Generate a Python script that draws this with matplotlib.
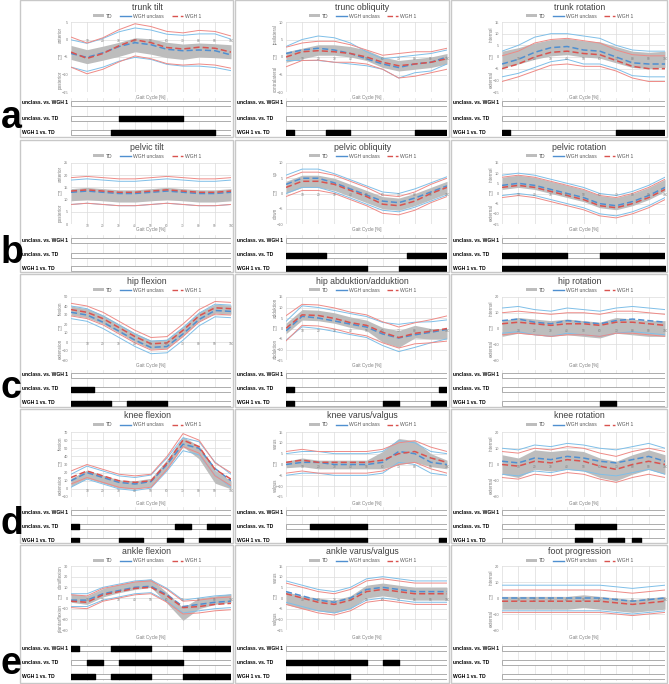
import matplotlib.pyplot as plt
from matplotlib.lines import Line2D
from matplotlib.patches import Patch, Rectangle
import numpy as np

plt.rcParams['font.family'] = ['Liberation Sans Narrow', 'Liberation Sans', 'DejaVu Sans']

GAIT = [0, 10, 20, 30, 40, 50, 60, 70, 80, 90, 100]
COMPARISONS = ["unclass. vs. WGH 1", "unclass. vs. TD", "WGH 1 vs. TD"]

# --- row a ---
TRUNK_TILT_TD = [-3.7, -4.9, -3.9, -2.8, -1.5, -2.0, -3.0, -3.5, -3.0, -3.2, -3.5]
TRUNK_TILT_TD_SD = [2.0, 2.0, 2.0, 2.0, 2.0, 2.2, 2.2, 2.2, 2.0, 2.0, 2.0]
TRUNK_TILT_UN = [-4.0, -5.1, -3.8, -2.0, -0.9, -1.5, -2.8, -3.2, -3.0, -3.2, -4.4]
TRUNK_TILT_UN_SD = [3.9, 4.0, 4.1, 4.2, 4.2, 4.2, 4.3, 4.4, 4.6, 4.8, 4.5]
TRUNK_TILT_W1 = [-3.6, -5.4, -4.0, -1.8, -0.1, -0.9, -2.3, -2.7, -2.2, -2.5, -3.6]
TRUNK_TILT_W1_SD = [4.3, 4.4, 4.5, 4.6, 4.6, 4.6, 4.6, 4.6, 4.8, 4.8, 4.6]
TRUNK_TILT_SIG = [[], [(30, 40)], [(25, 65)]]

TRUNK_OBL_TD = [0, 1, 2, 2, 1.5, 0.5, -1.5, -2.5, -2, -1.5, -0.5]
TRUNK_OBL_TD_SD = [1.5, 1.5, 1.5, 1.5, 1.5, 1.5, 1.5, 1.5, 1.5, 1.5, 1.5]
TRUNK_OBL_UN = [1, 2, 2.5, 2, 1, -0.5, -2, -3, -2, -1.5, 0]
TRUNK_OBL_UN_SD = [2, 3, 3.5, 3.5, 3, 2, 1.5, 3, 2.5, 2.5, 2]
TRUNK_OBL_W1 = [0, 1.5, 1.8, 1.5, 1, 0, -1.5, -2.5, -2, -1.5, -0.5]
TRUNK_OBL_W1_SD = [2.8, 2.5, 2.7, 3, 2.5, 2, 2, 3.5, 3.5, 3, 3]
TRUNK_OBL_SIG = [[], [], [(0, 5), (25, 15), (80, 20)]]

TRUNK_ROT_TD = [-1, 0.5, 2.5, 4, 4.5, 3.5, 3, 1, -1, -1.5, -1]
TRUNK_ROT_TD_SD = [3.5, 3.5, 3.5, 3.5, 3.5, 3.5, 3.5, 3.5, 3.5, 3.5, 3.5]
TRUNK_ROT_UN = [-3, -1, 2, 4, 4.5, 3, 2.5, 0, -2.5, -3, -3]
TRUNK_ROT_UN_SD = [5.5, 6, 6.5, 6, 5.5, 6, 5.5, 5, 5.5, 5.5, 5.5]
TRUNK_ROT_W1 = [-5, -3, 0, 2, 2.5, 1.5, 1, -1.5, -4, -5, -5]
TRUNK_ROT_W1_SD = [5.5, 5.5, 6, 5.5, 5.5, 5.5, 5, 4.5, 5, 5.5, 5.5]
TRUNK_ROT_SIG = [[], [], [(0, 5), (70, 30)]]

# --- row b ---
PELV_TILT_TD = [12, 12.5, 12, 11.5, 11.5, 12, 12.5, 12, 11.5, 11.5, 12]
PELV_TILT_TD_SD = [2.5, 2.5, 2.5, 2.5, 2.5, 2.5, 2.5, 2.5, 2.5, 2.5, 2.5]
PELV_TILT_UN = [13, 13.5, 13, 12.5, 12.5, 13, 13.5, 13, 12.5, 12.5, 13]
PELV_TILT_UN_SD = [5, 5, 5, 5, 5, 5, 5, 5, 5, 5, 5]
PELV_TILT_W1 = [13.5, 14, 13.5, 13, 13, 13.5, 14, 13.5, 13, 13, 13.5]
PELV_TILT_W1_SD = [5.5, 5.5, 5.5, 5.5, 5.5, 5.5, 5.5, 5.5, 5.5, 5.5, 5.5]
PELV_TILT_SIG = [[], [], []]

PELV_OBL_TD = [2, 4, 4, 3, 1, -1, -3, -3.5, -2, 0, 2]
PELV_OBL_TD_SD = [2, 2, 2, 2, 2, 2, 2, 2, 2, 2, 2]
PELV_OBL_UN = [3, 5, 5, 3.5, 1.5, -0.5, -2.5, -3, -1.5, 0.5, 2.5]
PELV_OBL_UN_SD = [3, 3, 3, 3, 3, 3, 3, 3, 3, 3, 3]
PELV_OBL_W1 = [2, 4, 4, 3, 1, -1, -3.5, -4, -2.5, 0, 2]
PELV_OBL_W1_SD = [3, 3, 3, 3, 3, 3, 3, 3, 3, 3, 3]
PELV_OBL_SIG = [[], [(0, 25), (75, 25)], [(0, 50), (70, 30)]]

PELV_ROT_TD = [5, 6, 5, 3, 1, -1, -4, -5, -3, 0, 4]
PELV_ROT_TD_SD = [3, 3, 3, 3, 3, 3, 3, 3, 3, 3, 3]
PELV_ROT_UN = [4, 5, 4, 2, 0, -2, -5, -6, -4, -1, 3]
PELV_ROT_UN_SD = [5, 5, 5, 5, 5, 5, 5, 5, 5, 5, 5]
PELV_ROT_W1 = [3, 4, 3, 1, -1, -3, -6, -7, -5, -2, 2]
PELV_ROT_W1_SD = [5, 5, 5, 5, 5, 5, 5, 5, 5, 5, 5]
PELV_ROT_SIG = [[], [(0, 40), (60, 40)], [(0, 100)]]

# --- row c ---
HIP_FLEX_TD = [35, 32, 25, 15, 5, -3, -2, 12, 28, 37, 36]
HIP_FLEX_TD_SD = [5, 5, 5, 5, 5, 5, 5, 5, 5, 5, 5]
HIP_FLEX_UN = [33, 30, 22, 12, 2, -6, -5, 9, 25, 35, 34]
HIP_FLEX_UN_SD = [7, 7, 7, 7, 7, 7, 7, 7, 7, 7, 7]
HIP_FLEX_W1 = [36, 33, 26, 16, 6, -2, -1, 13, 29, 38, 37]
HIP_FLEX_W1_SD = [7, 7, 7, 7, 7, 7, 7, 7, 7, 7, 7]
HIP_FLEX_SIG = [[], [(0, 14.5)], [(0, 25), (35, 25)]]

HIP_ABD_TD = [0, 6.5, 6.2, 5, 3, 1.5, -3, -5, -1.5, -2.5, -2.5]
HIP_ABD_TD_SD = [2.5, 2.5, 2.5, 2.5, 2.5, 2.5, 3.5, 4, 3, 2.5, 2.5]
HIP_ABD_UN = [-1.1, 5.8, 5.0, 3.6, 2.1, 0.7, -2.6, -4.5, -3.0, -1.8, -0.4]
HIP_ABD_UN_SD = [4.5, 5, 5, 5, 5, 5, 5.5, 6.5, 6, 5, 4.5]
HIP_ABD_W1 = [0.1, 6.5, 6.2, 4.8, 2.8, 1.5, -1.8, -4.3, -2.3, -1.3, 0]
HIP_ABD_W1_SD = [6, 5, 5, 5, 5, 5, 5, 5, 5, 5.5, 6]
HIP_ABD_SIG = [[], [(0, 5), (95, 5)], [(0, 5), (60, 10), (90, 10)]]

HIP_ROT_TD = [0, 2, 1, 0, 1, 0, -1, 2, 1, 0, 0]
HIP_ROT_TD_SD = [5, 5, 5, 5, 5, 5, 5, 5, 5, 5, 5]
HIP_ROT_UN = [5, 6, 4, 3, 5, 4, 3, 5, 6, 5, 4]
HIP_ROT_UN_SD = [8, 8, 8, 8, 8, 8, 8, 8, 8, 8, 8]
HIP_ROT_W1 = [3, 4, 3, 2, 3, 3, 2, 4, 4, 3, 2]
HIP_ROT_W1_SD = [7, 7, 7, 7, 7, 7, 7, 7, 7, 7, 7]
HIP_ROT_SIG = [[], [], [(60, 10)]]

# --- row d ---
KNEE_FLEX_TD = [8, 18, 12, 6, 5, 8, 30, 58, 45, 15, 5]
KNEE_FLEX_TD_SD = [5, 5, 5, 5, 5, 5, 6, 6, 8, 8, 5]
KNEE_FLEX_UN = [10, 20, 14, 8, 6, 9, 30, 55, 50, 25, 10]
KNEE_FLEX_UN_SD = [8, 8, 8, 8, 8, 8, 8, 8, 8, 8, 8]
KNEE_FLEX_W1 = [14, 22, 16, 10, 8, 10, 32, 60, 52, 24, 12]
KNEE_FLEX_W1_SD = [8, 8, 8, 8, 8, 8, 8, 8, 8, 8, 8]
KNEE_FLEX_SIG = [[], [(0, 5), (65, 10), (85, 15)], [(0, 5), (30, 15), (60, 10), (80, 20)]]

KNEE_VAR_TD = [0, 1, 0, 0, 0, 0, 2, 6, 6, 2, 0]
KNEE_VAR_TD_SD = [1.5, 2, 2, 2, 2, 2, 4, 6, 5, 3, 2]
KNEE_VAR_UN = [0, 1, 1, 0, 0, 0, 1, 6, 5, 1, 0]
KNEE_VAR_UN_SD = [5, 5, 5, 5, 5, 5, 5, 5, 5, 5, 5]
KNEE_VAR_W1 = [1, 2, 1, 1, 1, 1, 2, 5, 6, 3, 1]
KNEE_VAR_W1_SD = [5, 5, 5, 5, 5, 5, 5, 5, 5, 5, 5]
KNEE_VAR_SIG = [[], [(15, 35)], [(0, 50), (95, 5)]]

KNEE_ROT_TD = [0, -2, 3, 2, 3, 2, -2, -4, 0, 3, 0]
KNEE_ROT_TD_SD = [6, 6, 6, 6, 6, 6, 6, 6, 6, 6, 6]
KNEE_ROT_UN = [2, 1, 4, 3, 5, 4, 2, 1, 3, 5, 2]
KNEE_ROT_UN_SD = [8, 8, 8, 8, 8, 8, 8, 8, 8, 8, 8]
KNEE_ROT_W1 = [0, -1, 2, 1, 3, 2, -1, -3, 0, 2, 0]
KNEE_ROT_W1_SD = [8, 8, 8, 8, 8, 8, 8, 8, 8, 8, 8]
KNEE_ROT_SIG = [[], [(45, 25)], [(45, 10), (65, 10), (80, 5)]]

# --- row e ---
ANK_FLEX_TD = [0, -2, 5, 9, 12, 14, 0, -15, -5, -2, 0]
ANK_FLEX_TD_SD = [4, 4, 4, 4, 4, 4, 5, 6, 5, 4, 4]
ANK_FLEX_UN = [-2, -2, 4, 7, 10, 11, 3, -8, -6, -4, -3]
ANK_FLEX_UN_SD = [6, 6, 6, 6, 6, 6, 6, 6, 6, 6, 6]
ANK_FLEX_W1 = [-3, -4, 3, 6, 9, 10, 2, -9, -8, -6, -5]
ANK_FLEX_W1_SD = [6, 6, 6, 6, 6, 6, 6, 6, 6, 6, 6]
ANK_FLEX_SIG = [[(0, 5), (25, 25), (70, 30)], [(10, 10), (30, 40)], [(0, 15), (25, 25), (70, 30)]]

ANK_VAR_TD = [0, -2, -3, -4, -2, 3, 4, 3, 2, 2, 2]
ANK_VAR_TD_SD = [3, 3, 3, 3, 3, 3, 3, 3, 3, 3, 3]
ANK_VAR_UN = [3, 1, -1, -2, 0, 4, 5, 4, 3, 3, 3]
ANK_VAR_UN_SD = [5, 5, 5, 5, 5, 5, 5, 5, 5, 5, 5]
ANK_VAR_W1 = [2, 0, -2, -3, -1, 3, 4, 3, 2, 2, 2]
ANK_VAR_W1_SD = [5, 5, 5, 5, 5, 5, 5, 5, 5, 5, 5]
ANK_VAR_SIG = [[], [(0, 50), (60, 10)], [(0, 40)]]

FOOT_PROG_TD = [-3, -3, -3, -3, -3, -2, -3, -4, -5, -4, -3]
FOOT_PROG_TD_SD = [4, 4, 4, 4, 4, 4, 4, 4, 4, 4, 4]
FOOT_PROG_UN = [0, 0, 0, 0, 0, 0, 0, -1, -2, -1, 0]
FOOT_PROG_UN_SD = [8, 8, 8, 8, 8, 8, 8, 8, 8, 8, 8]
FOOT_PROG_W1 = [-2, -2, -2, -2, -2, -2, -2, -3, -4, -3, -2]
FOOT_PROG_W1_SD = [7, 7, 7, 7, 7, 7, 7, 7, 7, 7, 7]
FOOT_PROG_SIG = [[], [], []]

PANELS = [
    ("trunk tilt", "anterior", "posterior", (-15, 5, 5),
     TRUNK_TILT_TD, TRUNK_TILT_TD_SD, TRUNK_TILT_UN, TRUNK_TILT_UN_SD, TRUNK_TILT_W1, TRUNK_TILT_W1_SD, TRUNK_TILT_SIG),
    ("trunc obliquity", "ipsilateral", "contralateral", (-10, 10, 5),
     TRUNK_OBL_TD, TRUNK_OBL_TD_SD, TRUNK_OBL_UN, TRUNK_OBL_UN_SD, TRUNK_OBL_W1, TRUNK_OBL_W1_SD, TRUNK_OBL_SIG),
    ("trunk rotation", "internal", "external", (-15, 15, 5),
     TRUNK_ROT_TD, TRUNK_ROT_TD_SD, TRUNK_ROT_UN, TRUNK_ROT_UN_SD, TRUNK_ROT_W1, TRUNK_ROT_W1_SD, TRUNK_ROT_SIG),
    ("pelvic tilt", "anterior", "posterior", (0, 25, 5),
     PELV_TILT_TD, PELV_TILT_TD_SD, PELV_TILT_UN, PELV_TILT_UN_SD, PELV_TILT_W1, PELV_TILT_W1_SD, PELV_TILT_SIG),
    ("pelvic obliquity", "up", "down", (-10, 10, 5),
     PELV_OBL_TD, PELV_OBL_TD_SD, PELV_OBL_UN, PELV_OBL_UN_SD, PELV_OBL_W1, PELV_OBL_W1_SD, PELV_OBL_SIG),
    ("pelvic rotation", "internal", "external", (-15, 15, 5),
     PELV_ROT_TD, PELV_ROT_TD_SD, PELV_ROT_UN, PELV_ROT_UN_SD, PELV_ROT_W1, PELV_ROT_W1_SD, PELV_ROT_SIG),
    ("hip flexion", "flexion", "extension", (-20, 50, 10),
     HIP_FLEX_TD, HIP_FLEX_TD_SD, HIP_FLEX_UN, HIP_FLEX_UN_SD, HIP_FLEX_W1, HIP_FLEX_W1_SD, HIP_FLEX_SIG),
    ("hip abduktion/adduktion", "adduktion", "abduktion", (-15, 15, 5),
     HIP_ABD_TD, HIP_ABD_TD_SD, HIP_ABD_UN, HIP_ABD_UN_SD, HIP_ABD_W1, HIP_ABD_W1_SD, HIP_ABD_SIG),
    ("hip rotation", "internal", "external", (-20, 20, 10),
     HIP_ROT_TD, HIP_ROT_TD_SD, HIP_ROT_UN, HIP_ROT_UN_SD, HIP_ROT_W1, HIP_ROT_W1_SD, HIP_ROT_SIG),
    ("knee flexion", "flexion", "extension", (-10, 70, 10),
     KNEE_FLEX_TD, KNEE_FLEX_TD_SD, KNEE_FLEX_UN, KNEE_FLEX_UN_SD, KNEE_FLEX_W1, KNEE_FLEX_W1_SD, KNEE_FLEX_SIG),
    ("knee varus/valgus", "varus", "valgus", (-15, 15, 5),
     KNEE_VAR_TD, KNEE_VAR_TD_SD, KNEE_VAR_UN, KNEE_VAR_UN_SD, KNEE_VAR_W1, KNEE_VAR_W1_SD, KNEE_VAR_SIG),
    ("knee rotation", "internal", "external", (-20, 20, 10),
     KNEE_ROT_TD, KNEE_ROT_TD_SD, KNEE_ROT_UN, KNEE_ROT_UN_SD, KNEE_ROT_W1, KNEE_ROT_W1_SD, KNEE_ROT_SIG),
    ("ankle flexion", "dorsiflexion", "plantarflexion", (-30, 30, 10),
     ANK_FLEX_TD, ANK_FLEX_TD_SD, ANK_FLEX_UN, ANK_FLEX_UN_SD, ANK_FLEX_W1, ANK_FLEX_W1_SD, ANK_FLEX_SIG),
    ("ankle varus/valgus", "varus", "valgus", (-15, 15, 5),
     ANK_VAR_TD, ANK_VAR_TD_SD, ANK_VAR_UN, ANK_VAR_UN_SD, ANK_VAR_W1, ANK_VAR_W1_SD, ANK_VAR_SIG),
    ("foot progression", "internal", "external", (-20, 20, 10),
     FOOT_PROG_TD, FOOT_PROG_TD_SD, FOOT_PROG_UN, FOOT_PROG_UN_SD, FOOT_PROG_W1, FOOT_PROG_W1_SD, FOOT_PROG_SIG),
]
ROW_LETTERS = ["a", "b", "c", "d", "e"]

# layout in pixels (top-left origin)
W, H = 669, 684
COL_X = [(20, 233), (235, 449), (451, 667)]
ROWS = [
    dict(top=0, bottom=137, plot=(22, 92), gait=97, bars=(103, 118, 132)),
    dict(top=140, bottom=272, plot=(163, 224), gait=229, bars=(240, 255, 268)),
    dict(top=274, bottom=407, plot=(297, 360), gait=366, bars=(375, 389, 403)),
    dict(top=409, bottom=543, plot=(432, 497), gait=503, bars=(512, 526, 540)),
    dict(top=545, bottom=683, plot=(566, 630), gait=638, bars=(649, 663, 677)),
]

GRAY = "#bdbdbd"
BLUE = "#4f8fd0"
RED = "#d9534f"
BLUE_L = "#7fbfe8"
RED_L = "#ee8a86"
TXT = "#7f7f7f"

fig = plt.figure(figsize=(W / 100, H / 100), dpi=100)


def px_axes(x0, y0, x1, y1):
    return fig.add_axes([x0 / W, 1 - y1 / H, (x1 - x0) / W, (y1 - y0) / H])


x = np.array(GAIT)
for i, (title, up, down, yr, td, td_sd, un, un_sd, w1, w1_sd, sig) in enumerate(PANELS):
    r, c = divmod(i, 3)
    row = ROWS[r]
    left, right = COL_X[c]
    fig.add_artist(Rectangle((left / W, 1 - row["bottom"] / H), (right - left) / W,
                             (row["bottom"] - row["top"]) / H, transform=fig.transFigure,
                             fill=False, ec="#c8c8c8", lw=1.0))
    px0, px1 = left + 51, right - 2
    pc = (px0 + px1) / 2 - 4
    fig.text(pc / W, 1 - (row["top"] + 7) / H, title, ha="center", va="center",
             size=6.3, color="#404040")

    ax = px_axes(px0, row["plot"][0], px1, row["plot"][1])
    lo, hi, step = yr
    ax.set_xlim(0, 100)
    ax.set_ylim(lo, hi)
    ax.set_xticks(GAIT)
    ax.set_yticks(np.arange(lo, hi + 0.01, step))
    ax.grid(color="#dcdcdc", lw=0.5)
    ax.set_axisbelow(True)
    for s in ax.spines.values():
        s.set_visible(False)
    ax.tick_params(length=0, labelsize=2.8, colors=TXT, pad=2)
    ax.set_xticklabels([])

    td, td_sd = np.array(td), np.array(td_sd)
    un, un_sd = np.array(un), np.array(un_sd)
    w1, w1_sd = np.array(w1), np.array(w1_sd)
    ax.fill_between(x, td - td_sd, td + td_sd, color=GRAY, lw=0, zorder=2)
    for m, s, col, lcol in [(un, un_sd, BLUE, BLUE_L), (w1, w1_sd, RED, RED_L)]:
        ax.plot(x, m + s, color=lcol, lw=0.7, zorder=3)
        ax.plot(x, m - s, color=lcol, lw=0.7, zorder=3)
    ax.plot(x, un, color=BLUE, lw=1.1, ls=(0, (4, 2)), zorder=4)
    ax.plot(x, w1, color=RED, lw=1.1, ls=(0, (4, 2)), zorder=4)

    # category labels sit on the zero line
    y0 = 0 if lo <= 0 <= hi else lo
    for g in GAIT[1:]:
        ax.text(g, y0, str(g), ha="center", va="top", size=2.3, color=TXT, zorder=5)

    pw = px1 - px0
    ax.text(-11 / pw, 0.5, "[°]", transform=ax.transAxes, ha="center", va="center",
            size=3.5, color=TXT)
    ax.text(-11 / pw, 0.82, up, transform=ax.transAxes, ha="center", va="center",
            size=3.3, color=TXT, rotation=90)
    ax.text(-11 / pw, 0.18, down, transform=ax.transAxes, ha="center", va="center",
            size=3.3, color=TXT, rotation=90)

    handles = [Patch(facecolor=GRAY, edgecolor="none"),
               Line2D([], [], color=BLUE, lw=1.0),
               Line2D([], [], color=RED, lw=1.0, ls=(0, (4, 2)))]
    fig.legend(handles, ["TD", "WGH unclass", "WGH 1"], loc="center",
               bbox_to_anchor=(pc / W, 1 - (row["top"] + 16) / H), ncol=3,
               frameon=False, fontsize=3.6, labelcolor="#595959", handlelength=2.2,
               handleheight=0.6, handletextpad=0.4, columnspacing=1.5)

    fig.text((px0 + px1) / 2 / W, 1 - row["gait"] / H, "Gait Cycle [%]", ha="center",
             va="center", size=3.3, color=TXT)

    b0, b1, b2 = row["bars"]
    bx = px_axes(px0, b0 - 5, px1, b2 + 4)
    bx.set_xlim(0, 100)
    bx.set_ylim(b2 + 4, b0 - 5)
    bx.axis("off")
    for g in GAIT:
        bx.axvline(g, color="#e2e2e2", lw=0.5, zorder=0)
    for k, by in enumerate(row["bars"]):
        bx.barh(by, 100, left=0, height=5, color="white", edgecolor="#a0a0a0", lw=0.6, zorder=1)
        if sig[k]:
            bx.broken_barh(sig[k], (by - 2.5, 5), color="black", zorder=2)
        fig.text((left + 2) / W, 1 - by / H, COMPARISONS[k], ha="left", va="center",
                 size=3.6, weight="bold", color="black")

for r, row in enumerate(ROWS):
    fig.text(1 / W, 1 - (row["bottom"] - 1) / H, ROW_LETTERS[r], ha="left", va="bottom",
             size=27, weight="bold", family="Liberation Sans")

fig.savefig("out.png", dpi=100)
